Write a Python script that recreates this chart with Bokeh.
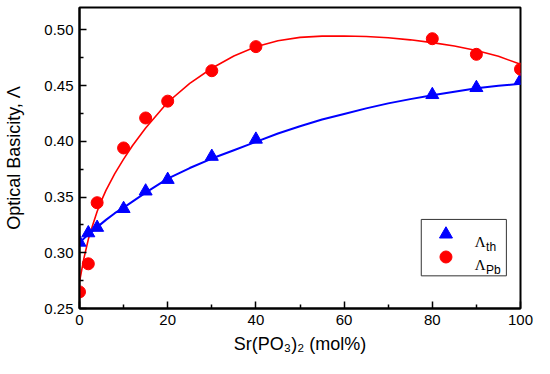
from bokeh.plotting import figure
from bokeh.models import Range1d, FixedTicker, PrintfTickFormatter
from bokeh.core.properties import value
from bokeh.embed import file_html
from bokeh.resources import INLINE

# ---- data ----
x_pts = [0, 2, 4, 10, 15, 20, 30, 40, 80, 90, 100]
lam_th = [0.3093, 0.3177, 0.3226, 0.3395, 0.3552, 0.3656, 0.3863, 0.4017, 0.4417, 0.4480, 0.4545]
lam_pb = [0.2649, 0.2901, 0.3449, 0.3940, 0.4209, 0.4360, 0.4633, 0.4849, 0.4920, 0.4780, 0.4647]

# fitted curves as drawn in the reference
fit_th_x = [0, 2, 4, 6, 8, 10, 15, 20, 25, 30, 35, 40, 45, 50, 55, 60, 65, 70, 75, 80, 85, 90, 95, 100]
fit_th_y = [0.309, 0.3165, 0.323, 0.3295, 0.3355, 0.3405, 0.354, 0.3665, 0.376, 0.3845, 0.392, 0.3995,
            0.407, 0.4135, 0.4195, 0.4245, 0.4295, 0.434, 0.4378, 0.4412, 0.4445, 0.4475, 0.4498, 0.4515]
fit_pb_x = [0, 1, 2, 3, 4, 5, 6, 8, 10, 12, 15, 20, 25, 30, 35, 40, 45, 50, 55, 60, 65, 70, 75, 80,
            85, 90, 95, 100]
fit_pb_y = [0.274, 0.295, 0.312, 0.325, 0.337, 0.347, 0.356, 0.371, 0.384, 0.396, 0.412, 0.435, 0.452,
            0.4655, 0.4765, 0.4848, 0.4902, 0.4932, 0.4943, 0.4945, 0.494, 0.4928, 0.491, 0.4885, 0.4855,
            0.4815, 0.4763, 0.469]

x_ticks = [0, 20, 40, 60, 80, 100]
x_minor = [10, 30, 50, 70, 90]
y_ticks = [0.25, 0.30, 0.35, 0.40, 0.45, 0.50]
y_minor = [0.275, 0.325, 0.375, 0.425, 0.475]

x_title = "Sr(PO\u2083)\u2082 (mol%)"
y_title = "Optical Basicity, \u039b"
legend_symbol = ["\u039b", "\u039b"]
legend_subs = ["th", "Pb"]

p = figure(width=534, height=358, x_range=Range1d(0, 100), y_range=Range1d(0.25, 0.52),
           output_backend="svg", toolbar_location=None,
           min_border_left=79, min_border_right=14, min_border_top=7, min_border_bottom=50)

p.xgrid.visible = False
p.ygrid.visible = False
p.outline_line_color = "black"
p.outline_line_width = 2
p.outline_line_alpha = 1.0

p.xaxis.ticker = FixedTicker(ticks=x_ticks, minor_ticks=x_minor)
p.yaxis.ticker = FixedTicker(ticks=y_ticks, minor_ticks=y_minor)
p.yaxis.formatter = PrintfTickFormatter(format="%.2f")
for ax in (p.xaxis, p.yaxis):
    ax.axis_line_width = 2
    ax.axis_line_color = "black"
    ax.major_tick_in = 7
    ax.major_tick_out = 0
    ax.minor_tick_in = 4
    ax.minor_tick_out = 0
    ax.major_tick_line_width = 1.5
    ax.minor_tick_line_width = 1.5
    ax.major_tick_line_color = "black"
    ax.minor_tick_line_color = "black"
    ax.major_label_text_font = "Liberation Sans"
    ax.major_label_text_font_size = "15px"
    ax.major_label_text_color = "black"
    ax.major_label_standoff = 6
    ax.axis_label_text_font = "Liberation Sans"
    ax.axis_label_text_font_size = "18px"
    ax.axis_label_text_font_style = "normal"
    ax.axis_label_text_color = "black"

p.xaxis.axis_label = x_title
p.xaxis.axis_label_standoff = 6
p.yaxis.axis_label = y_title
p.yaxis.axis_label_standoff = 17

p.line(fit_th_x, fit_th_y, line_color="blue", line_width=2)
p.line(fit_pb_x, fit_pb_y, line_color="red", line_width=1.6)
p.scatter(x_pts, lam_th, marker="triangle", size=13, fill_color="blue", line_color="blue")
p.scatter(x_pts, lam_pb, marker="circle", size=12, fill_color="red", line_color="red")

# legend box (drawn in data space, lower right)
p.quad(left=[77.5], right=[96.8], bottom=[0.2793], top=[0.3299],
       fill_color=None, line_color="#333333", line_width=1)
p.scatter([83.1], [0.3166], marker="triangle", size=13, fill_color="blue", line_color="blue")
p.scatter([83.1], [0.2962], marker="circle", size=12, fill_color="red", line_color="red")
p.text(x=[89.6, 89.6], y=[0.3093, 0.2890], text=legend_symbol,
       text_font=value("Liberation Serif"), text_font_size="15px", text_color="black",
       text_baseline="alphabetic", text_align="left")
p.text(x=[92.2, 92.2], y=[0.3050, 0.2848], text=legend_subs,
       text_font=value("Liberation Sans"), text_font_size="12px", text_color="black",
       text_baseline="alphabetic", text_align="left")

open("out.html", "w").write(file_html(p, INLINE))
